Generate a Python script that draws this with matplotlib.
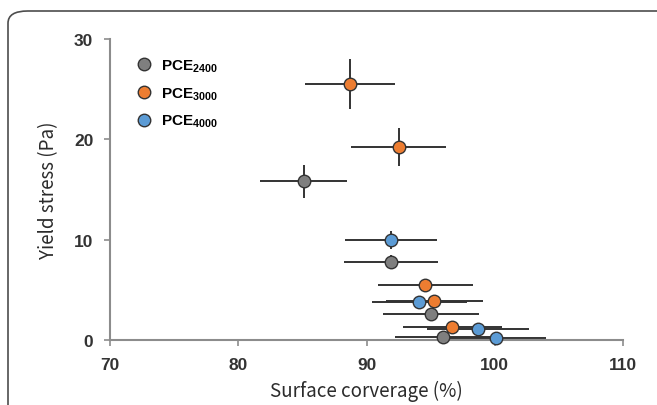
import numpy as np
import matplotlib.pyplot as plt
from matplotlib.patches import FancyBboxPatch

# surface coverage (%) and yield stress (Pa)
labels = [r"PCE$_{2400}$", r"PCE$_{3000}$", r"PCE$_{4000}$"]
colors = ["#7f7f7f", "#ed7d31", "#5b9bd5"]

x_2400 = [85.1, 91.9, 95.0, 96.0]
y_2400 = [15.8, 7.8, 2.6, 0.3]
xerr_2400 = [3.4, 3.65, 3.75, 3.8]
yerr_2400 = [1.6, 0.7, 0.3, 0.2]

x_3000 = [88.7, 92.5, 94.6, 95.3, 96.7]
y_3000 = [25.5, 19.2, 5.5, 3.9, 1.3]
xerr_3000 = [3.5, 3.7, 3.7, 3.8, 3.85]
yerr_3000 = [2.5, 1.9, 0.3, 0.3, 0.3]

x_4000 = [91.9, 94.1, 98.7, 100.1]
y_4000 = [10.0, 3.8, 1.1, 0.2]
xerr_4000 = [3.6, 3.7, 3.95, 3.9]
yerr_4000 = [0.9, 0.3, 0.3, 0.2]

plt.rcParams["font.family"] = ["Liberation Sans", "DejaVu Sans"]
plt.rcParams["mathtext.default"] = "regular"

fig = plt.figure(figsize=(6.57, 4.06), dpi=100)
ax = fig.add_axes([110 / 657, 65 / 406, 513 / 657, 301 / 406])

# rounded frame around the figure
frame = FancyBboxPatch((8 / 657, -0.2), 1.2, 1.2 - 12 / 406,
                       boxstyle="round,pad=0,rounding_size=0.03",
                       transform=fig.transFigure, fill=False,
                       edgecolor="#4d4d4d", linewidth=1.2, clip_on=False)
fig.patches.append(frame)

series = [(x_2400, y_2400, xerr_2400, yerr_2400),
          (x_3000, y_3000, xerr_3000, yerr_3000),
          (x_4000, y_4000, xerr_4000, yerr_4000)]

for (xs, ys, xe, ye), lab, col in zip(series, labels, colors):
    ax.errorbar(xs, ys, xerr=xe, yerr=ye, fmt="none", ecolor="#333333",
                elinewidth=1.4, capsize=0, zorder=2, clip_on=False)
for (xs, ys, xe, ye), lab, col in zip(series, labels, colors):
    ax.plot(xs, ys, "o", color=col, markeredgecolor="#333333",
            markeredgewidth=1.0, markersize=9, label=lab, zorder=3,
            clip_on=False)

ax.set_xlim(70, 110)
ax.set_ylim(0, 30)
ax.set_xticks([70, 80, 90, 100, 110])
ax.set_yticks([0, 10, 20, 30])

for s in ["top", "right"]:
    ax.spines[s].set_visible(False)
for s in ["left", "bottom"]:
    ax.spines[s].set_color("#8c8c8c")
    ax.spines[s].set_linewidth(1.5)
ax.tick_params(direction="out", length=4, width=1.2, color="#8c8c8c",
               labelsize=12.5, labelcolor="#333333", pad=8)
for t in ax.get_xticklabels() + ax.get_yticklabels():
    t.set_fontweight("bold")

lab_font = ["Noto Sans CJK SC", "DejaVu Sans"]
ax.set_xlabel("Surface corverage (%)", fontsize=13.5, family=lab_font,
              fontweight="medium", color="#2b2b2b", labelpad=6)
ax.set_ylabel("Yield stress (Pa)", fontsize=13.5, family=lab_font,
              fontweight="medium", color="#2b2b2b", labelpad=11)

ax.legend(loc="upper left", bbox_to_anchor=(0.025, 0.985), frameon=False,
          handletextpad=0.6, labelspacing=0.75,
          prop={"weight": "bold", "size": 11}, handlelength=1.0)

fig.savefig("out.png", dpi=100)
